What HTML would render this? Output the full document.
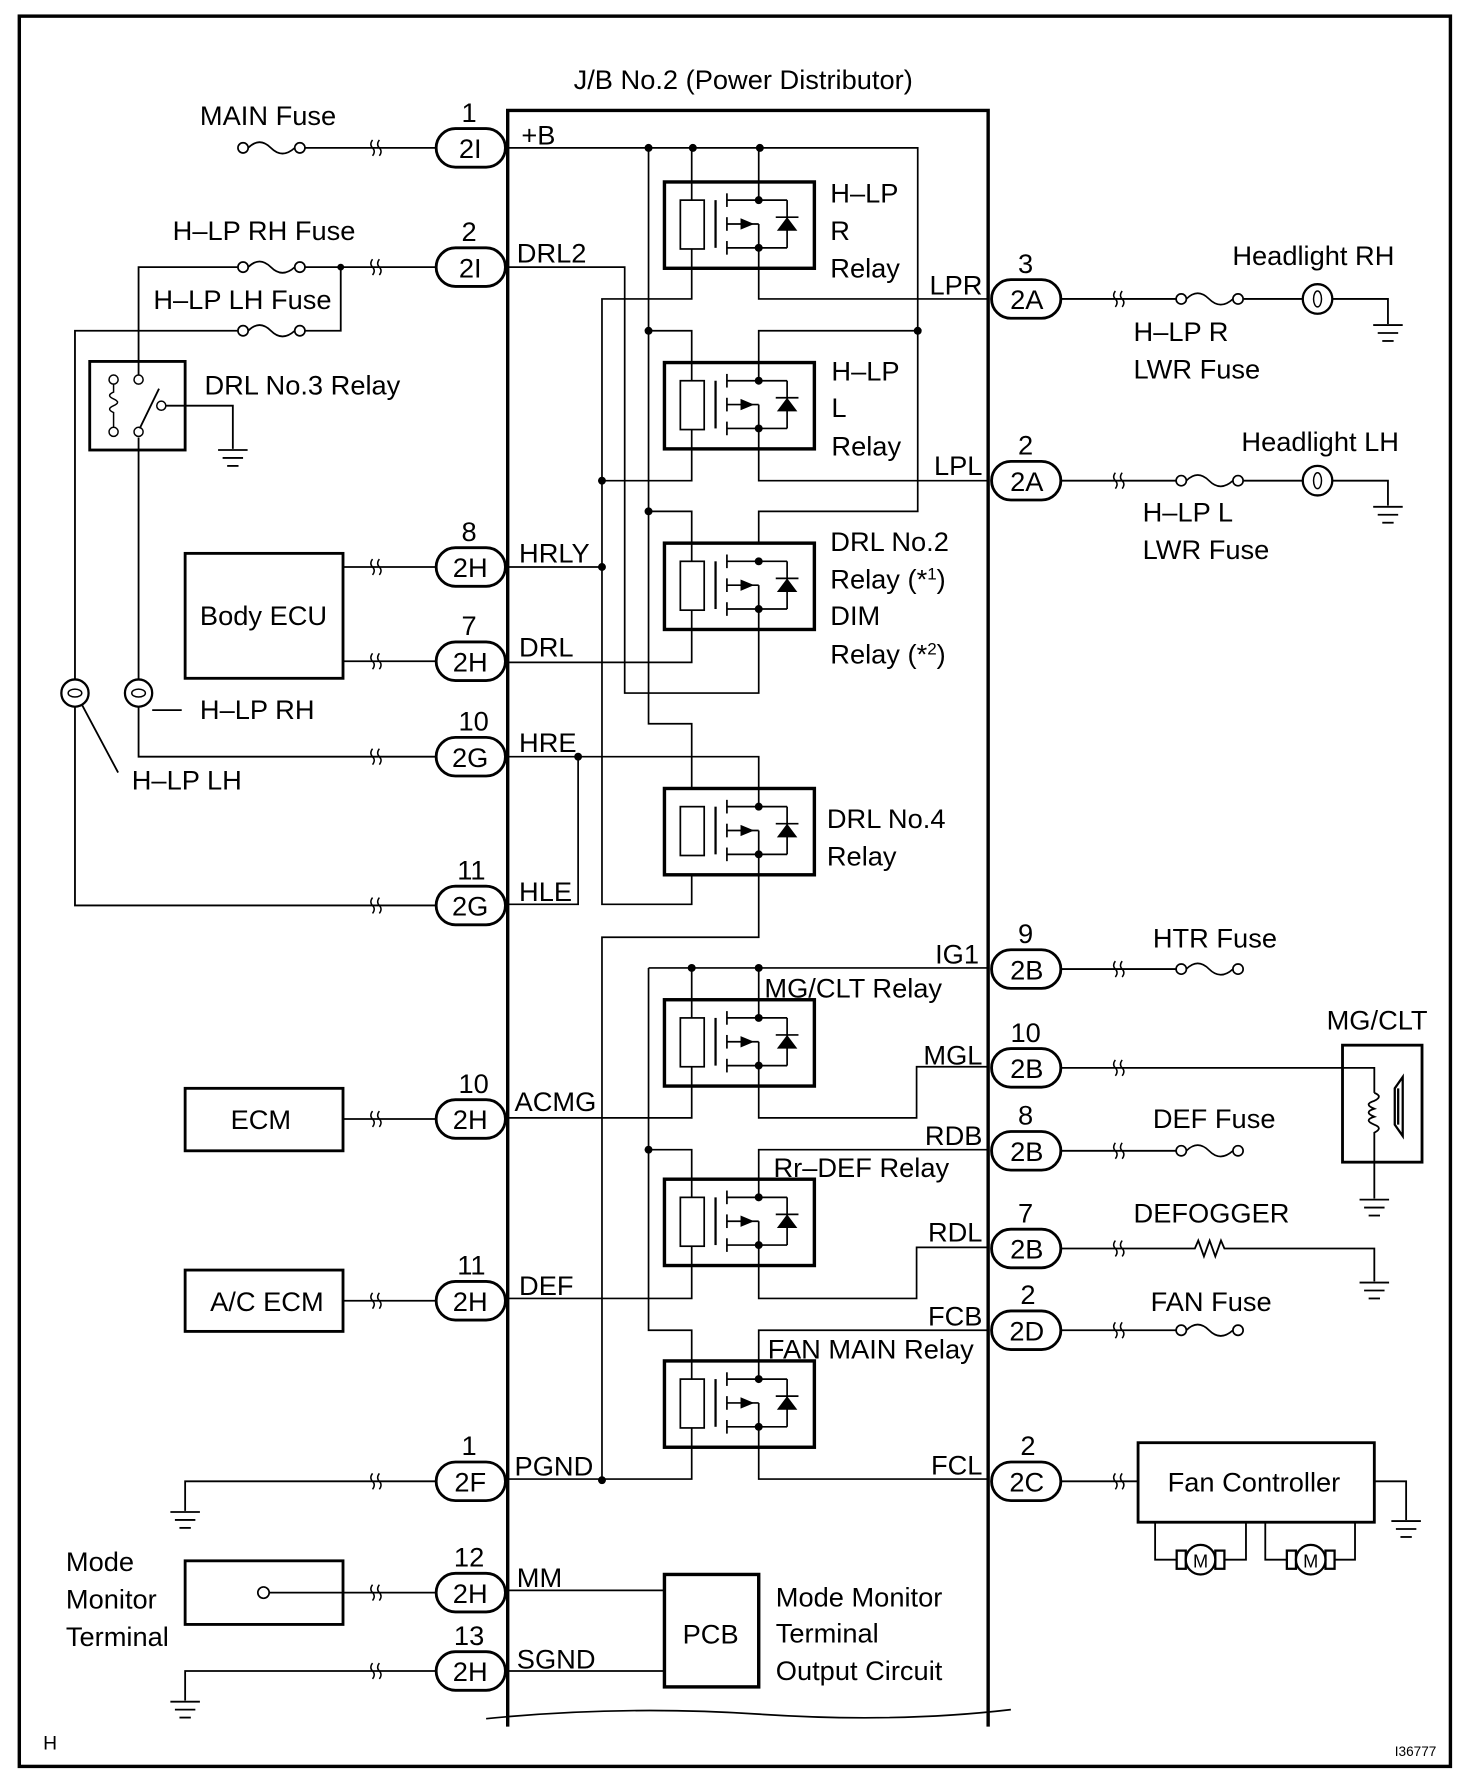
<!DOCTYPE html>
<html><head><meta charset="utf-8"><style>
html,body{margin:0;padding:0;background:#fff}
svg{display:block;font-family:"Liberation Sans",Arial,sans-serif;font-size:24px}
text{fill:#000}
</style></head><body>
<svg width="1472" height="1778" viewBox="0 0 1296 1565" xmlns="http://www.w3.org/2000/svg">
<defs>
<g id="brk"><path d="M-3,-7 q-3,4 0,7 q3,3 0,7 M3,-7 q-3,4 0,7 q3,3 0,7" fill="none" stroke="#000" stroke-width="1.3"/></g>
<g id="fuse" fill="none" stroke="#000" stroke-width="1.5"><circle cx="0" cy="0" r="4.5" fill="#fff"/><circle cx="50" cy="0" r="4.5" fill="#fff"/><path d="M4.5,0 q10,-10 20,0 q10,10 21,0"/></g>
<g id="gnd" stroke="#000" stroke-width="1.6"><line x1="-13" y1="0" x2="13" y2="0"/><line x1="-9" y1="7" x2="9" y2="7"/><line x1="-5" y1="14" x2="5" y2="14"/></g>
<g id="relay" fill="none" stroke="#000">
<rect x="585" y="0" width="132" height="76" stroke-width="3"/>
<rect x="599" y="16" width="21" height="43" stroke-width="1.5" fill="#fff"/>
<line x1="630" y1="16" x2="630" y2="58" stroke-width="2"/>
<g stroke-width="1.5">
<line x1="640" y1="10" x2="640" y2="22"/><line x1="640" y1="31" x2="640" y2="43"/><line x1="640" y1="52" x2="640" y2="64"/>
<line x1="640" y1="16" x2="693" y2="16"/><line x1="640" y1="58" x2="693" y2="58"/>
<line x1="640" y1="37" x2="668" y2="37"/><line x1="668" y1="37" x2="668" y2="58"/>
<line x1="693" y1="16" x2="693" y2="58"/><line x1="683" y1="31" x2="703" y2="31"/></g>
<polygon points="684,43 702,43 693,31" fill="#000" stroke="none"/>
<polygon points="652,32 664,37 652,42" fill="#000" stroke="none"/>
<circle cx="668" cy="16" r="3.5" fill="#000" stroke="none"/><circle cx="668" cy="58" r="3.5" fill="#000" stroke="none"/>
</g>
</defs>
<rect x="17" y="14" width="1260" height="1541" fill="none" stroke="#000" stroke-width="3"/>
<!-- J/B -->
<text x="505" y="78">J/B No.2 (Power Distributor)</text>
<path d="M447,1520 V97 H870 V1520" fill="none" stroke="#000" stroke-width="3"/>
<path d="M428,1513 q120,-12 240,-4 q120,8 222,-4" fill="none" stroke="#000" stroke-width="1.5"/>

<g fill="none" stroke="#000" stroke-width="1.5">
<path d="M447,130 H808 V450 H668 V478"/>
<path d="M571,130 V637 H609 V694"/>
<path d="M609,130 V176 M609,219 V263 H530 V796 H609 V771"/>
<path d="M668,130 V176 M668,218 V263 H869"/>
<path d="M571,291 H609 V335 M609,378 V423 H530"/>
<path d="M668,335 V291 H808 M668,377 V423 H869"/>
<path d="M571,450 H609 V494 M609,537 V583 H447"/>
<path d="M447,235 H550 V610 H668 V536"/>
<path d="M447,499 H530"/>
<path d="M447,666 H668 V710 M509,666 V796 H447"/>
<path d="M668,752 V825 H530 V1302"/>
<path d="M571,852 H869 M571,852 V1171 H609 V1214 M609,852 V896 M668,852 V896"/>
<path d="M609,939 V984 H447 M668,938 V984 H807 V939 H869"/>
<path d="M571,1012 H609 V1054 M609,1097 V1143 H447"/>
<path d="M869,1012 H668 V1054 M668,1096 V1143 H807 V1098 H869"/>
<path d="M869,1171 H668 V1214 M668,1256 V1302 H869"/>
<path d="M609,1257 V1302 H447"/>
<path d="M447,1400 H585 M447,1471 H585"/>
</g>
<g fill="#000">
<circle cx="571" cy="130" r="3.5"/><circle cx="610" cy="130" r="3.5"/><circle cx="669" cy="130" r="3.5"/>
<circle cx="571" cy="291" r="3.5"/><circle cx="808" cy="291" r="3.5"/><circle cx="530" cy="423" r="3.5"/>
<circle cx="571" cy="450" r="3.5"/><circle cx="530" cy="499" r="3.5"/><circle cx="509" cy="666" r="3.5"/>
<circle cx="609" cy="852" r="3.5"/><circle cx="668" cy="852" r="3.5"/><circle cx="571" cy="1012" r="3.5"/>
<circle cx="530" cy="1303" r="3.5"/>
</g>
<use href="#relay" y="160"/><use href="#relay" y="319"/><use href="#relay" y="478"/>
<use href="#relay" y="694"/><use href="#relay" y="880"/><use href="#relay" y="1038"/><use href="#relay" y="1198"/>
<rect x="585" y="1386" width="83" height="99" fill="#fff" stroke="#000" stroke-width="3"/>
<text x="601" y="1447">PCB</text>
<text x="683" y="1414">Mode Monitor</text><text x="683" y="1446">Terminal</text><text x="683" y="1479">Output Circuit</text>

<text x="731" y="178">H–LP</text><text x="731" y="211">R</text><text x="731" y="244">Relay</text>
<text x="732" y="335">H–LP</text><text x="732" y="367">L</text><text x="732" y="401">Relay</text>
<text x="731" y="485">DRL No.2</text><text x="731" y="518">Relay (*<tspan font-size="15" dy="-8">1</tspan><tspan dy="8">)</tspan></text>
<text x="731" y="550">DIM</text><text x="731" y="584">Relay (*<tspan font-size="15" dy="-8">2</tspan><tspan dy="8">)</tspan></text>
<text x="728" y="729">DRL No.4</text><text x="728" y="762">Relay</text>
<text x="673" y="878">MG/CLT Relay</text><text x="681" y="1036">Rr–DEF Relay</text><text x="676" y="1196">FAN MAIN Relay</text>

<text x="459" y="127">+B</text><text x="455" y="231">DRL2</text><text x="457" y="495">HRLY</text><text x="457" y="578">DRL</text>
<text x="457" y="662">HRE</text><text x="457" y="793">HLE</text><text x="453" y="978">ACMG</text><text x="457" y="1140">DEF</text>
<text x="453" y="1299">PGND</text><text x="455" y="1397">MM</text><text x="455" y="1469">SGND</text>
<g text-anchor="end"><text x="865" y="259">LPR</text><text x="865" y="418">LPL</text><text x="862" y="848">IG1</text><text x="865" y="937">MGL</text>
<text x="865" y="1008">RDB</text><text x="865" y="1093">RDL</text><text x="865" y="1167">FCB</text><text x="865" y="1298">FCL</text></g>

<g fill="#fff" stroke="#000" stroke-width="2.5">
<rect x="384" y="113" width="61" height="34" rx="17"/><rect x="384" y="218" width="61" height="34" rx="17"/>
<rect x="384" y="482" width="61" height="34" rx="17"/><rect x="384" y="565" width="61" height="34" rx="17"/>
<rect x="384" y="649" width="61" height="34" rx="17"/><rect x="384" y="780" width="61" height="34" rx="17"/>
<rect x="384" y="968" width="61" height="34" rx="17"/><rect x="384" y="1128" width="61" height="34" rx="17"/>
<rect x="384" y="1287" width="61" height="34" rx="17"/><rect x="384" y="1385" width="61" height="34" rx="17"/>
<rect x="384" y="1454" width="61" height="34" rx="17"/>
<rect x="873" y="246" width="61" height="34" rx="17"/><rect x="873" y="406" width="61" height="34" rx="17"/>
<rect x="873" y="836" width="61" height="34" rx="17"/><rect x="873" y="923" width="61" height="34" rx="17"/>
<rect x="873" y="996" width="61" height="34" rx="17"/><rect x="873" y="1082" width="61" height="34" rx="17"/>
<rect x="873" y="1154" width="61" height="34" rx="17"/><rect x="873" y="1287" width="61" height="34" rx="17"/>
</g>
<g text-anchor="middle">
<text x="414" y="139">2I</text><text x="414" y="244">2I</text><text x="414" y="508">2H</text><text x="414" y="591">2H</text>
<text x="414" y="675">2G</text><text x="414" y="806">2G</text><text x="414" y="994">2H</text><text x="414" y="1154">2H</text>
<text x="414" y="1313">2F</text><text x="414" y="1411">2H</text><text x="414" y="1480">2H</text>
<text x="413" y="107">1</text><text x="413" y="212">2</text><text x="413" y="476">8</text><text x="413" y="559">7</text>
<text x="417" y="643">10</text><text x="415" y="774">11</text><text x="417" y="962">10</text><text x="415" y="1122">11</text>
<text x="413" y="1281">1</text><text x="413" y="1379">12</text><text x="413" y="1448">13</text>
<text x="904" y="272">2A</text><text x="904" y="432">2A</text><text x="904" y="862">2B</text><text x="904" y="949">2B</text>
<text x="904" y="1022">2B</text><text x="904" y="1108">2B</text><text x="904" y="1180">2D</text><text x="904" y="1313">2C</text>
<text x="903" y="240">3</text><text x="903" y="400">2</text><text x="903" y="830">9</text><text x="903" y="917">10</text>
<text x="903" y="990">8</text><text x="903" y="1076">7</text><text x="905" y="1148">2</text><text x="905" y="1281">2</text>
</g>

<g fill="none" stroke="#000" stroke-width="1.6">
<path d="M266,130 H384"/>
<path d="M122,330 V235 H209 M266,235 H384"/>
<path d="M66,598 V291 H209 M266,291 H300 V235"/>
<path d="M122,385 V598 M122,622 V666 H384"/>
<path d="M66,622 V797 H384"/>
<path d="M302,499 H384 M302,582 H384 M302,985 H384 M302,1145 H384"/>
<path d="M163,1330 V1304 H384 M163,1497 V1471 H384 M237,1402 H384"/>
<path d="M142,357 H205 V395"/>
<path d="M134,625 H160 M72,620 L104,680"/>
</g>
<circle cx="300" cy="235" r="3" fill="#000"/>
<use href="#fuse" x="214" y="130"/><use href="#fuse" x="214" y="235"/><use href="#fuse" x="214" y="291"/>
<text x="176" y="110">MAIN Fuse</text><text x="152" y="211">H–LP RH Fuse</text><text x="135" y="272">H–LP LH Fuse</text>
<rect x="79" y="318" width="84" height="78" fill="none" stroke="#000" stroke-width="2.5"/>
<g fill="#fff" stroke="#000" stroke-width="1.3">
<circle cx="100" cy="334" r="4"/><circle cx="100" cy="380" r="4"/><circle cx="122" cy="334" r="4"/><circle cx="122" cy="380" r="4"/><circle cx="142" cy="357" r="4"/>
<path d="M100,338 V345 q-7,3 0,6 q7,3 0,6 q-7,3 0,6 V376" fill="none"/>
<path d="M123,377 L140,342" fill="none" stroke-width="1.6"/>
</g>
<use href="#gnd" x="205" y="396"/>
<text x="180" y="347">DRL No.3 Relay</text>
<g fill="#fff" stroke="#000" stroke-width="2"><circle cx="66" cy="610" r="12"/><circle cx="122" cy="610" r="12"/></g>
<g fill="none" stroke="#000" stroke-width="1.3"><ellipse cx="66" cy="610" rx="6" ry="3.5"/><ellipse cx="122" cy="610" rx="6" ry="3.5"/></g>
<text x="176" y="633">H–LP RH</text><text x="116" y="695">H–LP LH</text>
<g fill="none" stroke="#000" stroke-width="2.5">
<rect x="163" y="487" width="139" height="110"/><rect x="163" y="958" width="139" height="55"/>
<rect x="163" y="1118" width="139" height="54"/><rect x="163" y="1374" width="139" height="56"/>
</g>
<circle cx="232" cy="1402" r="5" fill="#fff" stroke="#000" stroke-width="1.5"/>
<text x="176" y="550">Body ECU</text><text x="203" y="994">ECM</text><text x="185" y="1154">A/C ECM</text>
<text x="58" y="1383">Mode</text><text x="58" y="1416">Monitor</text><text x="58" y="1449">Terminal</text>
<use href="#gnd" x="163" y="1331"/><use href="#gnd" x="163" y="1498"/>

<g fill="none" stroke="#000" stroke-width="1.6">
<path d="M935,263 H1035 M1095,263 H1147 M1173,263 H1222 V285"/>
<path d="M935,423 H1035 M1095,423 H1147 M1173,423 H1222 V445"/>
<path d="M935,853 H1035 M935,1013 H1035 M935,1171 H1035"/>
<path d="M935,940 H1210 V962 M1210,1000 V1055"/>
<path d="M935,1099 H1052 l3,-7 l5,14 l5,-14 l5,14 l5,-14 l3,7 H1210 V1128"/>
<path d="M935,1304 H1002 M1210,1304 H1238 V1338"/>
<path d="M1017,1340 V1373 H1036 M1078,1373 H1097 V1340 M1114,1340 V1373 H1133 M1175,1373 H1193 V1340"/>
<path d="M1210,962 q8,3 0,7 q-10,3 0,7 q-10,3 0,7 q-10,3 0,7 q8,3 0,7 V1000"/>
</g>
<use href="#fuse" x="1040" y="263"/><use href="#fuse" x="1040" y="423"/><use href="#fuse" x="1040" y="853"/>
<use href="#fuse" x="1040" y="1013"/><use href="#fuse" x="1040" y="1171"/>
<g fill="#fff" stroke="#000" stroke-width="2"><circle cx="1160" cy="263" r="13"/><circle cx="1160" cy="423" r="13"/></g>
<g fill="none" stroke="#000" stroke-width="1.3"><ellipse cx="1160" cy="263" rx="3.5" ry="7"/><ellipse cx="1160" cy="423" rx="3.5" ry="7"/></g>
<use href="#gnd" x="1222" y="286"/><use href="#gnd" x="1222" y="446"/><use href="#gnd" x="1210" y="1056"/>
<use href="#gnd" x="1210" y="1129"/><use href="#gnd" x="1238" y="1339"/>
<text x="1085" y="233">Headlight RH</text><text x="998" y="300">H–LP R</text><text x="998" y="333">LWR Fuse</text>
<text x="1093" y="397">Headlight LH</text><text x="1006" y="459">H–LP L</text><text x="1006" y="492">LWR Fuse</text>
<text x="1015" y="834">HTR Fuse</text><text x="1168" y="906">MG/CLT</text><text x="1015" y="993">DEF Fuse</text>
<text x="998" y="1076">DEFOGGER</text><text x="1013" y="1154">FAN Fuse</text>
<rect x="1182" y="920" width="70" height="103" fill="none" stroke="#000" stroke-width="2.5"/>
<path d="M1228,958 l7,-10 V1000 l-7,-10 Z M1231,958 V990" fill="none" stroke="#000" stroke-width="2"/>
<rect x="1002" y="1270" width="208" height="70" fill="none" stroke="#000" stroke-width="2.5"/>
<text x="1028" y="1313">Fan Controller</text>
<g stroke="#000" stroke-width="2" fill="#fff">
<rect x="1036" y="1365" width="8" height="16"/><rect x="1070" y="1365" width="8" height="16"/><circle cx="1057" cy="1373" r="13"/>
<rect x="1133" y="1365" width="8" height="16"/><rect x="1167" y="1365" width="8" height="16"/><circle cx="1154" cy="1373" r="13"/>
</g>
<text x="1057" y="1380" text-anchor="middle" font-size="16">M</text><text x="1154" y="1380" text-anchor="middle" font-size="16">M</text>

<use href="#brk" x="331" y="130"/><use href="#brk" x="331" y="235"/><use href="#brk" x="331" y="499"/><use href="#brk" x="331" y="582"/>
<use href="#brk" x="331" y="666"/><use href="#brk" x="331" y="797"/><use href="#brk" x="331" y="985"/><use href="#brk" x="331" y="1145"/>
<use href="#brk" x="331" y="1304"/><use href="#brk" x="331" y="1402"/><use href="#brk" x="331" y="1471"/>
<use href="#brk" x="985" y="263"/><use href="#brk" x="985" y="423"/><use href="#brk" x="985" y="853"/><use href="#brk" x="985" y="940"/>
<use href="#brk" x="985" y="1013"/><use href="#brk" x="985" y="1099"/><use href="#brk" x="985" y="1171"/><use href="#brk" x="985" y="1304"/>

<text x="38" y="1540" font-size="17">H</text>
<text x="1228" y="1546" font-size="12">I36777</text>
</svg>
</body></html>
